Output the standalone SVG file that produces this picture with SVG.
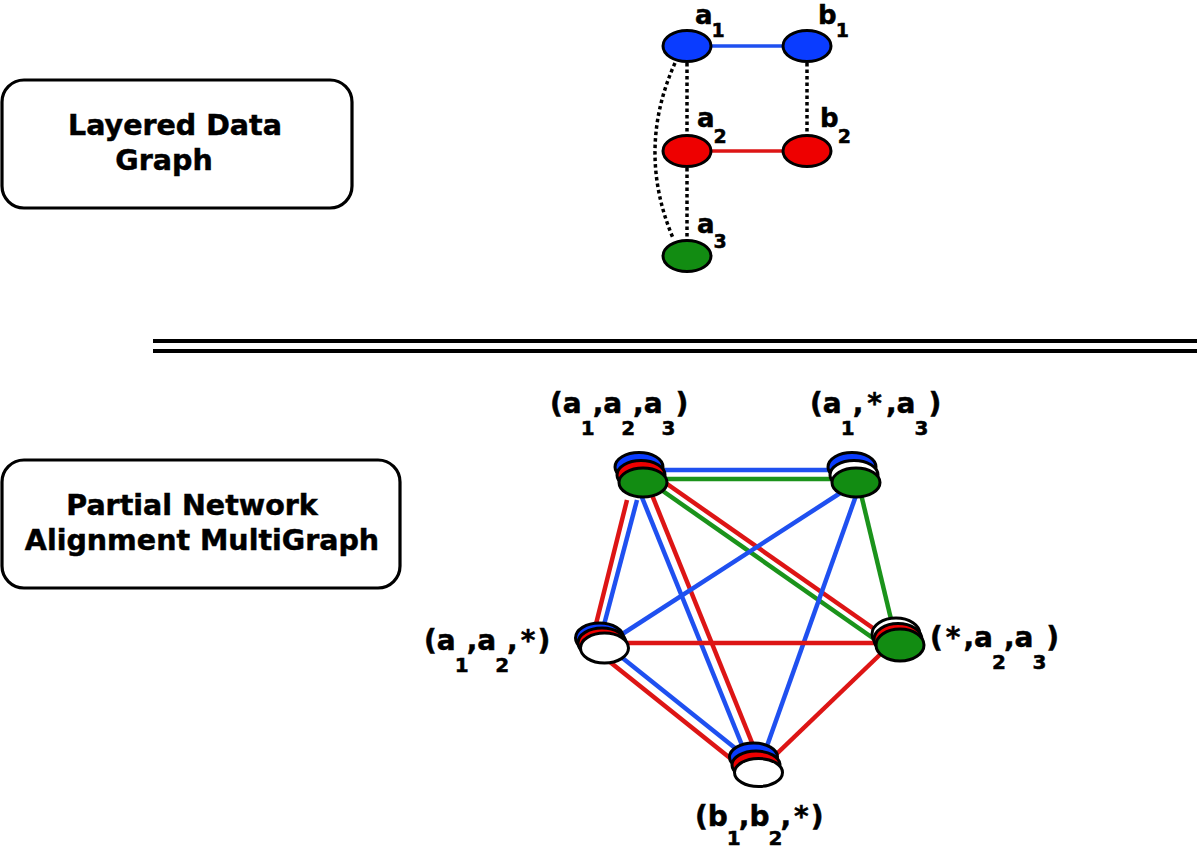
<svg xmlns="http://www.w3.org/2000/svg" width="1200" height="850" viewBox="0 0 1200 850">
<style>
.box{fill:#fff;stroke:#000;stroke-width:3.2}
.ttl{font-family:"DejaVu Sans","Liberation Sans",sans-serif;font-weight:bold;font-size:28.5px;fill:#000;stroke:#000;stroke-width:0.5;text-anchor:middle}
.lbl{font-family:"DejaVu Sans","Liberation Sans",sans-serif;font-weight:bold;font-size:28px;fill:#000;stroke:#000;stroke-width:0.5}
.tl{font-family:"DejaVu Sans","Liberation Sans",sans-serif;font-weight:bold;font-size:26px;fill:#000;stroke:#000;stroke-width:0.5}
.s1{font-size:19px}
.s2{font-size:20px}
.nd{stroke:#000;stroke-width:3}
.bl{fill:#0a3cff}.rd{fill:#ee0000}.gr{fill:#128c12}.wh{fill:#fff}
.dot{fill:none;stroke:#000;stroke-width:3.5;stroke-dasharray:3.5 3}
.e{stroke-width:4.5;fill:none;stroke-linecap:butt}
.eb{stroke:#1f50f0}.er{stroke:#dd1515}.eg{stroke:#1b931b}
.sep{stroke:#000;stroke-width:4}
</style>

<g id="box-layered">
<rect class="box" x="2" y="80" width="350" height="128" rx="22"/>
<text class="ttl" x="175" y="135">Layered Data</text>
<text class="ttl" x="164" y="170">Graph</text>
</g>
<g id="box-multigraph">
<rect class="box" x="2" y="460" width="398" height="128" rx="22"/>
<text class="ttl" x="192" y="515">Partial Network</text>
<text class="ttl" x="202" y="550">Alignment MultiGraph</text>
</g>

<g id="separator">
<line class="sep" x1="153" y1="341" x2="1197" y2="341"/>
<line class="sep" x1="153" y1="351" x2="1197" y2="351"/>
</g>

<g id="layered-edges">
<line x1="687" y1="46" x2="807" y2="46" stroke="#1f50f0" stroke-width="3.5"/>
<line x1="687" y1="151" x2="807" y2="151" stroke="#dd1515" stroke-width="3.5"/>
<line class="dot" x1="687" y1="63" x2="687" y2="135"/>
<line class="dot" x1="807" y1="63" x2="807" y2="135"/>
<line class="dot" x1="687" y1="168" x2="687" y2="240"/>
<path class="dot" d="M675,63 Q636,150 673,238"/>
</g>

<g id="node-a1"><ellipse class="nd bl" cx="687" cy="46" rx="24" ry="15.5"/><text class="tl" x="695" y="24">a<tspan class="s1" dy="13" dx="-1">1</tspan></text></g>
<g id="node-b1"><ellipse class="nd bl" cx="807" cy="46" rx="24" ry="15.5"/><text class="tl" x="818" y="24">b<tspan class="s1" dy="13" dx="-1">1</tspan></text></g>
<g id="node-a2"><ellipse class="nd rd" cx="687" cy="151" rx="24" ry="15.5"/><text class="tl" x="697" y="127">a<tspan class="s1" dy="16" dx="-1">2</tspan></text></g>
<g id="node-b2"><ellipse class="nd rd" cx="807" cy="151" rx="24" ry="15.5"/><text class="tl" x="820" y="127">b<tspan class="s1" dy="16" dx="-1">2</tspan></text></g>
<g id="node-a3"><ellipse class="nd gr" cx="687" cy="256" rx="24" ry="15.5"/><text class="tl" x="697" y="233">a<tspan class="s1" dy="15" dx="-1">3</tspan></text></g>

<g id="connectors">
<line class="e eb" x1="643" y1="470" x2="856" y2="470"/>
<line class="e eg" x1="643" y1="479" x2="856" y2="479"/>
<line class="e er" x1="627" y1="500" x2="592" y2="640"/>
<line class="e eb" x1="637" y1="500" x2="600" y2="640"/>
<line class="e eb" x1="641" y1="495" x2="748" y2="760"/>
<line class="e er" x1="652" y1="495" x2="759" y2="760"/>
<line class="e er" x1="650" y1="472" x2="895" y2="643.5"/>
<line class="e eg" x1="645" y1="478.5" x2="895" y2="653.5"/>
<line class="e eb" x1="848" y1="488" x2="610" y2="642"/>
<line class="e eb" x1="858" y1="490" x2="762" y2="760"/>
<line class="e eg" x1="860" y1="490" x2="896" y2="640"/>
<line class="e er" x1="604" y1="643" x2="900" y2="643"/>
<line class="e eb" x1="615" y1="652" x2="750" y2="760"/>
<line class="e er" x1="610" y1="662" x2="745" y2="770"/>
<line class="e er" x1="890" y1="645" x2="765" y2="765"/>
</g>

<g id="node-a1a2a3">
<ellipse class="nd bl" cx="639" cy="467" rx="24" ry="14.5"/>
<ellipse class="nd rd" cx="641" cy="475" rx="24" ry="14.5"/>
<ellipse class="nd gr" cx="643" cy="482.5" rx="24" ry="14.5"/>
<text class="lbl" x="550" y="413">(a<tspan class="s2" dy="22" dx="-1">1</tspan><tspan dy="-22" dx="-2">,a</tspan><tspan class="s2" dy="22" dx="-1">2</tspan><tspan dy="-22" dx="-2">,a</tspan><tspan class="s2" dy="22" dx="-1">3</tspan><tspan dy="-22">)</tspan></text>
</g>
<g id="node-a1sa3">
<ellipse class="nd bl" cx="852" cy="467" rx="24" ry="14.5"/>
<ellipse class="nd wh" cx="854" cy="475" rx="24" ry="14.5"/>
<ellipse class="nd gr" cx="856" cy="482.5" rx="24" ry="14.5"/>
<text class="lbl" x="810" y="413">(a<tspan class="s2" dy="22" dx="-1">1</tspan><tspan dy="-22" dx="-2">,</tspan><tspan dx="4">*</tspan><tspan dx="4">,a</tspan><tspan class="s2" dy="22" dx="-1">3</tspan><tspan dy="-22">)</tspan></text>
</g>
<g id="node-a1a2s">
<ellipse class="nd bl" cx="599.5" cy="638" rx="24" ry="15"/>
<ellipse class="nd rd" cx="602" cy="643" rx="24" ry="15"/>
<ellipse class="nd wh" cx="604.5" cy="648" rx="24" ry="15"/>
<text class="lbl" x="424" y="650">(a<tspan class="s2" dy="22" dx="-1">1</tspan><tspan dy="-22" dx="-2">,a</tspan><tspan class="s2" dy="22" dx="-1">2</tspan><tspan dy="-22" dx="-2">,</tspan><tspan dx="3">*</tspan><tspan dx="2">)</tspan></text>
</g>
<g id="node-sa2a3">
<ellipse class="nd wh" cx="896" cy="634" rx="24" ry="16"/>
<ellipse class="nd rd" cx="898" cy="639.5" rx="24" ry="16"/>
<ellipse class="nd gr" cx="900" cy="645" rx="24" ry="16"/>
<text class="lbl" x="930" y="647">(<tspan dx="3">*</tspan><tspan dx="3">,a</tspan><tspan class="s2" dy="22" dx="-1">2</tspan><tspan dy="-22" dx="-2">,a</tspan><tspan class="s2" dy="22" dx="-1">3</tspan><tspan dy="-22">)</tspan></text>
</g>
<g id="node-b1b2s">
<ellipse class="nd bl" cx="753.5" cy="757" rx="24" ry="14"/>
<ellipse class="nd rd" cx="756" cy="765" rx="24" ry="14"/>
<ellipse class="nd wh" cx="758.5" cy="772.5" rx="24" ry="14"/>
<text class="lbl" x="695" y="826">(b<tspan class="s2" dy="19" dx="-1">1</tspan><tspan dy="-19" dx="-2">,b</tspan><tspan class="s2" dy="19" dx="-1">2</tspan><tspan dy="-19" dx="-2">,</tspan><tspan dx="3">*</tspan><tspan dx="2">)</tspan></text>
</g>
</svg>
